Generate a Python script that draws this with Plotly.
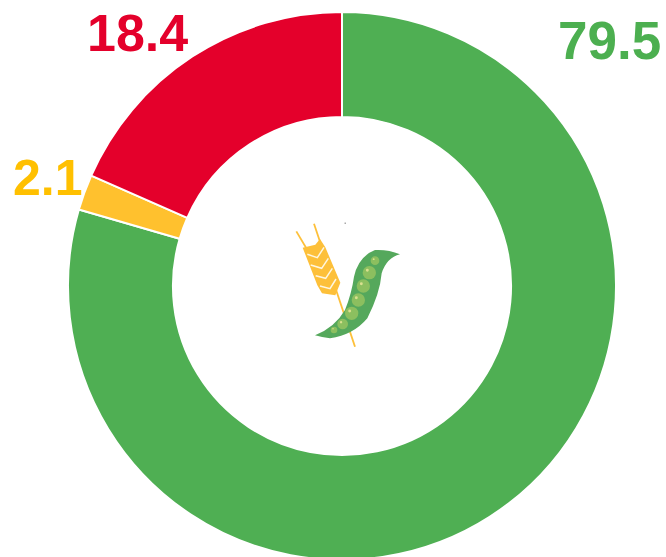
import plotly.graph_objects as go

labels = ["Green", "Yellow", "Red"]
values = [79.5, 2.1, 18.4]
slice_colors = ["#4FAF53", "#FFC12E", "#E4002B"]
value_text = ["79.5", "2.1", "18.4"]
text_colors = ["#4CAF50", "#FFC000", "#E4002B"]
text_sizes = [53, 50, 52]
text_centres = [(609, 40), (48, 178), (137, 33)]

W, H = 666, 570  # the page clips the ring's lowest pixels, as in the reference


def px(x, y):
    return f"{x / W:.5f},{1 - y / H:.5f}"


def zoomed(points):
    return [(280 + x / 3, 210 + y / 3) for x, y in points]


def poly(points, close=True):
    pts = zoomed(points)
    return "M" + " L".join(px(*p) for p in pts) + (" Z" if close else "")


def smooth(points):
    pts = zoomed(points)
    d = "M" + px(*pts[0])
    for i in range(1, len(pts) - 1, 2):
        d += " Q" + px(*pts[i]) + " " + px(*pts[i + 1])
    return d + " Z"


shapes = []


def line(points, color, width):
    shapes.append(dict(type="path", xref="paper", yref="paper", path=poly(points, False),
                       line=dict(color=color, width=width), layer="above"))


def fill(path, color):
    shapes.append(dict(type="path", xref="paper", yref="paper", path=path,
                       fillcolor=color, line=dict(width=0), layer="above"))


def dot(cx, cy, r, color):
    x, y = zoomed([(cx, cy)])[0]
    r /= 3
    shapes.append(dict(type="circle", xref="paper", yref="paper",
                       x0=(x - r) / W, x1=(x + r) / W,
                       y0=1 - (y + r) / H, y1=1 - (y - r) / H,
                       fillcolor=color, line=dict(width=0), layer="above"))


WHEAT = "#FDC03A"
# stems
line([(49, 64), (88, 130)], WHEAT, 1.8)
line([(102, 41), (225, 410)], WHEAT, 1.8)
# head
fill(poly([(68, 113), (106, 104), (120, 87), (136, 112), (181, 218), (166, 256),
           (126, 250), (112, 226)]), WHEAT)
# chevrons
for a, b, c in [((82, 133), (112, 143), (132, 112)),
                ((92, 165), (125, 175), (145, 145)),
                ((107, 197), (137, 205), (157, 175)),
                ((120, 228), (150, 236), (168, 207))]:
    line([a, b, c], "#FFF6DF", 1.5)
# pod
fill(smooth([(105, 376), (165, 352), (195, 300), (215, 250), (222, 200), (235, 140),
             (285, 120), (325, 118), (360, 133), (320, 143), (305, 190), (300, 250),
             (262, 325), (220, 375), (150, 385), (125, 382), (105, 376)]), "#55A85C")
# peas
for cx, cy, r in [(285, 152, 13), (268, 188, 20), (250, 228, 20), (235, 270, 20),
                  (215, 310, 20), (188, 342, 16), (162, 360, 10)]:
    dot(cx, cy, r, "#8CBF5F")
    dot(cx - r * 0.3, cy - r * 0.35, r * 0.22, "#D9E08F")
# stray dot
shapes.append(dict(type="rect", xref="paper", yref="paper",
                   x0=344.5 / W, x1=346 / W, y0=1 - 224 / H, y1=1 - 222.5 / H,
                   fillcolor="#AAAAAA", line=dict(width=0), layer="above"))

fig = go.Figure(go.Pie(
    labels=labels, values=values, sort=False, direction="clockwise", rotation=0,
    hole=0.617, textinfo="none", showlegend=False,
    marker=dict(colors=slice_colors, line=dict(color="white", width=2)),
    domain=dict(x=[68 / W, 616 / W], y=[1 - 560 / H, 1 - 12 / H]),
))

annotations = [
    dict(x=c[0] / W, y=1 - c[1] / H, xref="paper", yref="paper", text=f"<b>{t}</b>", showarrow=False,
         xanchor="center", yanchor="middle", font=dict(family="Liberation Sans", size=s, color=col))
    for t, col, s, c in zip(value_text, text_colors, text_sizes, text_centres)
]

fig.update_layout(width=W, height=H, margin=dict(l=0, r=0, t=0, b=0),
                  paper_bgcolor="white", plot_bgcolor="white",
                  annotations=annotations, shapes=shapes)
fig.write_html("out.html", config=dict(displayModeBar=False),
               post_script="document.body.style.margin='0';document.documentElement.style.overflow='hidden';document.body.style.overflow='hidden';")
